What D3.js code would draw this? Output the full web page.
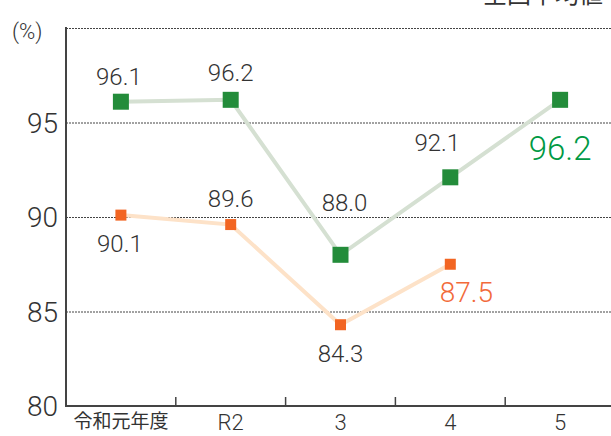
<!DOCTYPE html>
<html>
<head>
<meta charset="utf-8">
<script src="https://cdn.jsdelivr.net/npm/d3@7"></script>
<style>
  body { margin: 0; background: #fff; }
  svg { display: block; }
  text { font-family: Roboto, "Noto Sans", sans-serif; font-weight: 300; }
  .jp { font-family: "Noto Sans CJK JP", sans-serif; font-weight: 400; }
</style>
</head>
<body>
<svg id="chart" width="611" height="436"></svg>
<script>
const years = ["令和元年度", "R2", "3", "4", "5"];
const nationalValues = [96.1, 96.2, 88.0, 92.1, 96.2];
const localValues = [90.1, 89.6, 84.3, 87.5];
const yTicks = [80, 85, 90, 95, 100];

const svg = d3.select("#chart");
const width = 611;

const x = d3.scaleBand().domain(years).range([66, 615]);
const y = d3.scaleLinear().domain([80, 100]).range([406, 28]);
const cx = (d) => x(d) + x.bandwidth() / 2;

// title, cut off at the top edge like the source
svg.append("text").attr("class", "jp")
    .attr("x", 603).attr("y", 3)
    .attr("text-anchor", "end")
    .attr("font-size", 24).attr("fill", "#333")
    .text("全国平均値");

// dotted grid
svg.append("g").selectAll("line")
    .data(yTicks.filter(d => d > 80))
    .enter().append("line")
        .attr("x1", 66).attr("x2", width)
        .attr("y1", d => y(d) + 0.5).attr("y2", d => y(d) + 0.5)
        .attr("stroke", "#444").attr("stroke-width", 1)
        .attr("stroke-dasharray", "2,1");

// y tick labels
svg.append("g").selectAll("text")
    .data(yTicks.filter(d => d < 100))
    .enter().append("text")
        .attr("x", 58).attr("y", d => y(d) + 10)
        .attr("text-anchor", "end")
        .attr("font-size", 28).attr("fill", "#333")
        .text(d => d);

svg.append("text")
    .attr("x", 12).attr("y", 39)
    .attr("font-size", 22).attr("fill", "#333")
    .text("(%)");

// axes
svg.append("line")
    .attr("x1", 66).attr("x2", 66).attr("y1", 27).attr("y2", 407)
    .attr("stroke", "#444").attr("stroke-width", 2);

svg.append("line")
    .attr("x1", 65).attr("x2", width).attr("y1", 406).attr("y2", 406)
    .attr("stroke", "#444").attr("stroke-width", 2);

svg.append("g").selectAll("line")
    .data(years.slice(1))
    .enter().append("line")
        .attr("x1", d => x(d)).attr("x2", d => x(d))
        .attr("y1", 397).attr("y2", 406)
        .attr("stroke", "#444").attr("stroke-width", 1.5);

svg.append("g").selectAll("text")
    .data(years)
    .enter().append("text")
        .attr("class", (d, i) => i === 0 ? "jp" : null)
        .attr("x", cx).attr("y", (d, i) => i === 0 ? 428 : 430)
        .attr("text-anchor", "middle")
        .attr("font-size", (d, i) => i === 0 ? 19 : 22)
        .attr("fill", "#333")
        .text(d => d);

// lines
const line = d3.line().x(d => cx(d.year)).y(d => y(d.value));
const nat = nationalValues.map((v, i) => ({ year: years[i], value: v }));
const loc = localValues.map((v, i) => ({ year: years[i], value: v }));

svg.append("path").datum(loc)
    .attr("d", line).attr("fill", "none")
    .attr("stroke", "#fde2c8").attr("stroke-width", 4);
svg.append("path").datum(nat)
    .attr("d", line).attr("fill", "none")
    .attr("stroke", "#d5e0d2").attr("stroke-width", 4);

svg.append("g").selectAll("rect")
    .data(loc).enter().append("rect")
        .attr("x", d => cx(d.year) - 5.5).attr("y", d => y(d.value) - 5.5)
        .attr("width", 11).attr("height", 11)
        .attr("fill", "#f26522");
svg.append("g").selectAll("rect")
    .data(nat).enter().append("rect")
        .attr("x", d => cx(d.year) - 8).attr("y", d => y(d.value) - 8)
        .attr("width", 16).attr("height", 16)
        .attr("fill", "#238c3a");

// value labels
const natOffsets = [[-2, -17], [0, -19], [4, -44], [-13, -26]];
svg.append("g").selectAll("text")
    .data(nat.slice(0, 4)).enter().append("text")
        .attr("x", (d, i) => cx(d.year) + natOffsets[i][0])
        .attr("y", (d, i) => y(d.value) + natOffsets[i][1])
        .attr("text-anchor", "middle")
        .attr("font-size", 24).attr("fill", "#333")
        .text(d => d.value.toFixed(1));
svg.append("text")
    .attr("x", cx(years[4])).attr("y", y(nationalValues[4]) + 60)
    .attr("text-anchor", "middle")
    .attr("font-size", 33).attr("font-weight", 400).attr("fill", "#009944")
    .text(nationalValues[4].toFixed(1));

const locOffsets = [[-1, 37], [0, -18], [0, 37]];
svg.append("g").selectAll("text")
    .data(loc.slice(0, 3)).enter().append("text")
        .attr("x", (d, i) => cx(d.year) + locOffsets[i][0])
        .attr("y", (d, i) => y(d.value) + locOffsets[i][1])
        .attr("text-anchor", "middle")
        .attr("font-size", 24).attr("fill", "#333")
        .text(d => d.value.toFixed(1));
svg.append("text")
    .attr("x", cx(years[3]) + 16).attr("y", y(localValues[3]) + 38)
    .attr("text-anchor", "middle")
    .attr("font-size", 28).attr("fill", "#f26a3a")
    .text(localValues[3].toFixed(1));
</script>
</body>
</html>
